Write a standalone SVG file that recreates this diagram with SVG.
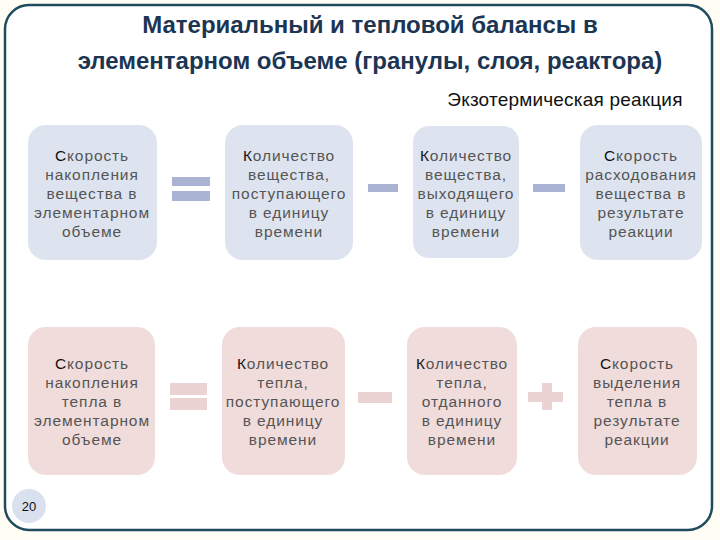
<svg xmlns="http://www.w3.org/2000/svg" width="720" height="540" viewBox="0 0 720 540">
<style>
.title{font-family:"Liberation Sans",Arial,sans-serif;font-weight:bold;font-size:24px;fill:#1b3552;text-anchor:middle}
.sub{font-family:"Liberation Sans",Arial,sans-serif;font-size:19px;fill:#111;text-anchor:middle;letter-spacing:0.2px}
.t{font-family:"Liberation Sans",Arial,sans-serif;font-size:15.5px;fill:#555;text-anchor:middle;letter-spacing:0.9px}
.f{fill:#111}
.blue{fill:#dde4ef}
.pink{fill:#f1dcdc}
.opb{fill:#aab3d3}
.opp{fill:#ecd3d3}
</style>
<rect x="0" y="0" width="720" height="540" fill="#fffdf4"/>
<rect x="5" y="5" width="707" height="525" rx="24" fill="#ffffff" stroke="#1f4b5e" stroke-width="2.5"/>
<text class="title" x="370" y="33">Материальный и тепловой балансы в</text>
<text class="title" x="370" y="69">элементарном объеме (гранулы, слоя, реактора)</text>
<text class="sub" x="565" y="106">Экзотермическая реакция</text>

<g id="m1"><rect class="blue" x="28" y="125" width="129" height="135" rx="18"/>
<text class="t"><tspan x="92" y="161"><tspan class="f">С</tspan>корость</tspan><tspan x="92" y="180">накопления</tspan><tspan x="92" y="199">вещества в</tspan><tspan x="92" y="218">элементарном</tspan><tspan x="92" y="237">объеме</tspan></text></g>
<g id="m2"><rect class="blue" x="225" y="125" width="128" height="135" rx="18"/>
<text class="t"><tspan x="289" y="161"><tspan class="f">К</tspan>оличество</tspan><tspan x="289" y="180">вещества,</tspan><tspan x="289" y="199">поступающего</tspan><tspan x="289" y="218">в  единицу</tspan><tspan x="289" y="237">времени</tspan></text></g>
<g id="m3"><rect class="blue" x="413" y="126" width="106" height="132" rx="16"/>
<text class="t"><tspan x="466" y="161"><tspan class="f">К</tspan>оличество</tspan><tspan x="466" y="180">вещества,</tspan><tspan x="466" y="199">выходящего</tspan><tspan x="466" y="218">в единицу</tspan><tspan x="466" y="237">времени</tspan></text></g>
<g id="m4"><rect class="blue" x="580" y="125" width="122" height="135" rx="18"/>
<text class="t"><tspan x="641" y="161"><tspan class="f">С</tspan>корость</tspan><tspan x="641" y="180">расходования</tspan><tspan x="641" y="199">вещества в</tspan><tspan x="641" y="218">результате</tspan><tspan x="641" y="237">реакции</tspan></text></g>

<g id="h1"><rect class="pink" x="28" y="327" width="127" height="148" rx="18"/>
<text class="t"><tspan x="92" y="369"><tspan class="f">С</tspan>корость</tspan><tspan x="92" y="388">накопления</tspan><tspan x="92" y="407">тепла в</tspan><tspan x="92" y="426">элементарном</tspan><tspan x="92" y="445">объеме</tspan></text></g>
<g id="h2"><rect class="pink" x="222" y="327" width="123" height="148" rx="18"/>
<text class="t"><tspan x="283" y="369"><tspan class="f">К</tspan>оличество</tspan><tspan x="283" y="388">тепла,</tspan><tspan x="283" y="407">поступающего</tspan><tspan x="283" y="426">в единицу</tspan><tspan x="283" y="445">времени</tspan></text></g>
<g id="h3"><rect class="pink" x="407" y="327" width="110" height="148" rx="18"/>
<text class="t"><tspan x="462" y="369"><tspan class="f">К</tspan>оличество</tspan><tspan x="462" y="388">тепла,</tspan><tspan x="462" y="407">отданного</tspan><tspan x="462" y="426">в единицу</tspan><tspan x="462" y="445">времени</tspan></text></g>
<g id="h4"><rect class="pink" x="578" y="327" width="119" height="148" rx="18"/>
<text class="t"><tspan x="637" y="369"><tspan class="f">С</tspan>корость</tspan><tspan x="637" y="388">выделения</tspan><tspan x="637" y="407">тепла в</tspan><tspan x="637" y="426">результате</tspan><tspan x="637" y="445">реакции</tspan></text></g>

<g id="connectors">
<rect class="opb" x="172" y="177" width="38" height="9"/>
<rect class="opb" x="172" y="191" width="38" height="10"/>
<rect class="opb" x="368" y="184" width="30" height="8"/>
<rect class="opb" x="533" y="184" width="32" height="8"/>
<rect class="opp" x="170" y="383" width="37" height="12"/>
<rect class="opp" x="170" y="398" width="37" height="12"/>
<rect class="opp" x="358" y="392" width="34" height="11"/>
<rect class="opp" x="528" y="392" width="35" height="10"/>
<rect class="opp" x="542" y="383" width="10" height="27"/>
</g>

<g id="page"><circle cx="29" cy="506" r="17" fill="#d9e0ee"/>
<text x="29" y="511" font-family="Liberation Sans,Arial,sans-serif" font-size="13" fill="#111" text-anchor="middle">20</text></g>
</svg>
